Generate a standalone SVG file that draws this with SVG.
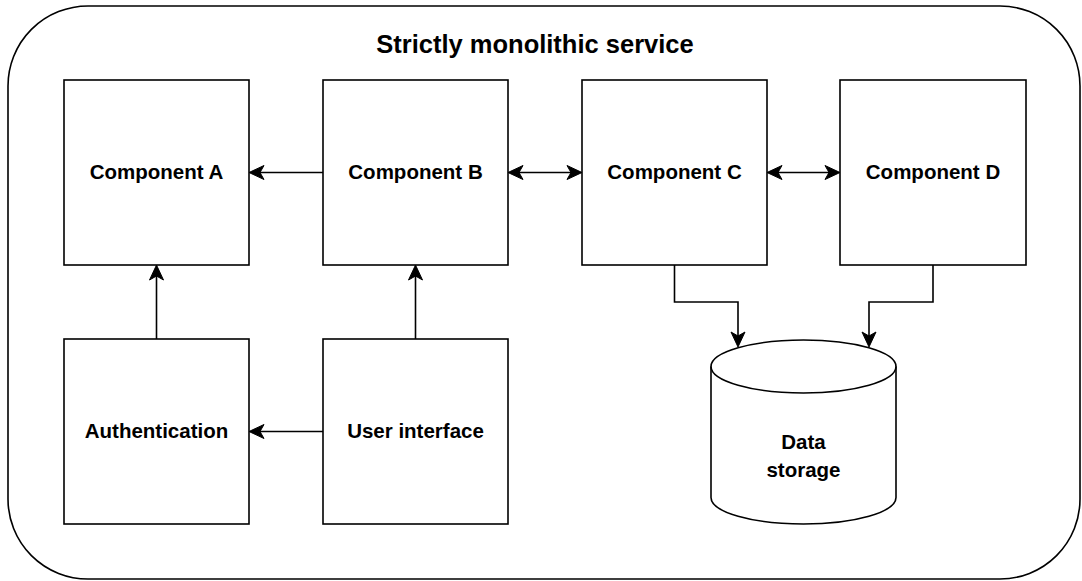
<svg xmlns="http://www.w3.org/2000/svg" width="1082" height="581" viewBox="0 0 1082 581">
  <style>
    .box { fill: #ffffff; stroke: #000000; stroke-width: 1.6; }
    .frame { fill: #ffffff; stroke: #000000; stroke-width: 1.6; }
    .edge { fill: none; stroke: #000000; stroke-width: 1.6; }
    .label { font-family: "Liberation Sans", Arial, Helvetica, sans-serif; font-weight: bold; font-size: 20.5px; fill: #000000; text-anchor: middle; }
    .title { font-family: "Liberation Sans", Arial, Helvetica, sans-serif; font-weight: bold; font-size: 25.5px; fill: #000000; text-anchor: middle; }
  </style>
  <defs>
    <!-- classic filled arrowhead; the reference point is the notch so the line ends inside the head -->
    <marker id="arrow" viewBox="-1 -8 18 16" markerWidth="18" markerHeight="16" refX="4" refY="0" orient="auto-start-reverse" markerUnits="userSpaceOnUse">
      <path d="M0,-7 L15,0 L0,7 L4,0 Z" fill="#000000" stroke="#000000" stroke-width="1" stroke-linejoin="miter"/>
    </marker>
  </defs>

  <!-- outer service boundary -->
  <g id="service">
    <rect class="frame" x="8" y="6" width="1072" height="573" rx="80" ry="80"/>
    <text class="title" x="535" y="52.5">Strictly monolithic service</text>
  </g>

  <g id="component-a">
    <rect class="box" x="64" y="80" width="185" height="185"/>
    <text class="label" x="156.5" y="179">Component A</text>
  </g>
  <g id="component-b">
    <rect class="box" x="323" y="80" width="185" height="185"/>
    <text class="label" x="415.5" y="179">Component B</text>
  </g>
  <g id="component-c">
    <rect class="box" x="582" y="80" width="185" height="185"/>
    <text class="label" x="674.5" y="179">Component C</text>
  </g>
  <g id="component-d">
    <rect class="box" x="840" y="80" width="186" height="185"/>
    <text class="label" x="933" y="179">Component D</text>
  </g>
  <g id="authentication">
    <rect class="box" x="64" y="339" width="185" height="185"/>
    <text class="label" x="156.5" y="438">Authentication</text>
  </g>
  <g id="user-interface">
    <rect class="box" x="323" y="339" width="185" height="185"/>
    <text class="label" x="415.5" y="438">User interface</text>
  </g>
  <g id="data-storage">
    <path class="box" d="M711,366.5 A92.5,26.5 0 0 1 896,366.5 V497.5 A92.5,26.5 0 0 1 711,497.5 Z"/>
    <path class="edge" d="M711,366.5 A92.5,26.5 0 0 0 896,366.5"/>
    <text class="label" x="803.5" y="449">Data</text>
    <text class="label" x="803.5" y="477">storage</text>
  </g>

  <g id="connectors">
    <!-- B to A -->
    <path class="edge" d="M323,172.5 H260" marker-end="url(#arrow)"/>
    <!-- B and C, both ways -->
    <path class="edge" d="M519,172.5 H571" marker-start="url(#arrow)" marker-end="url(#arrow)"/>
    <!-- C and D, both ways -->
    <path class="edge" d="M778,172.5 H829" marker-start="url(#arrow)" marker-end="url(#arrow)"/>
    <!-- Authentication to A -->
    <path class="edge" d="M156.5,339 V276" marker-end="url(#arrow)"/>
    <!-- User interface to B -->
    <path class="edge" d="M415.5,339 V276" marker-end="url(#arrow)"/>
    <!-- User interface to Authentication -->
    <path class="edge" d="M323,431.5 H260" marker-end="url(#arrow)"/>
    <!-- C to storage -->
    <path class="edge" d="M674.5,265 V302 H738 V336" marker-end="url(#arrow)"/>
    <!-- D to storage -->
    <path class="edge" d="M933,265 V302 H869 V336" marker-end="url(#arrow)"/>
  </g>
</svg>
